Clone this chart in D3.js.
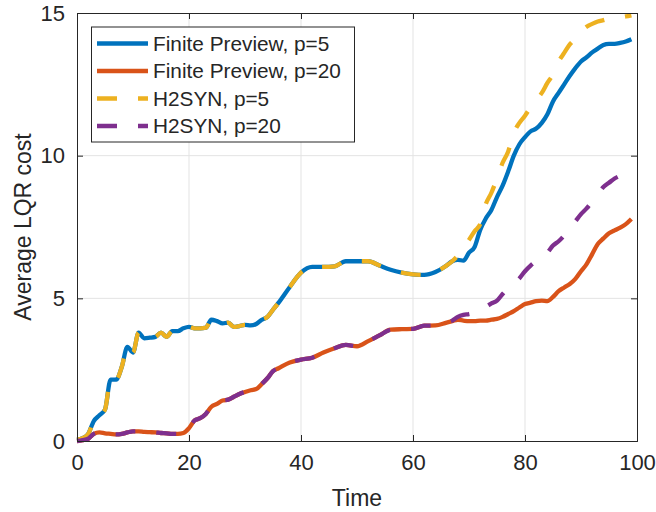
<!DOCTYPE html>
<html>
<head>
<meta charset="utf-8">
<script src="https://cdn.jsdelivr.net/npm/d3@7"></script>
<style>
  body { margin: 0; background: #fff; }
  text { font-family: "Liberation Sans", Arial, Helvetica, sans-serif; fill: #262626; }
</style>
</head>
<body>
<div id="chart"></div>
<script>
const time = [0,1,2,3,4,5,6,7,8,9,10,11,12,13,14,15,16,17,18,19,20,21,22,23,24,25,26,27,28,29,30,31,32,33,34,35,36,
    38,40,42,44,46,48,50,52,54,56,58,60,62,64,
    66,67,68,69,70,71,72,73,74,75,76,77,78,79,80,81,82,83,84,85,86,87,88,89,90,91,92,93,94,95,96,97,98,99];

// shared part of the p=5 curves (t = 0 .. 66)
const p5Common = [0.05,0.1,0.25,0.7,0.9,1.1,2.15,2.15,2.6,3.3,3.1,3.8,3.6,3.62,3.65,3.8,3.65,3.85,3.85,3.95,4.0,3.95,3.95,3.97,4.25,4.2,4.12,4.15,4.0,4.03,4.07,4.05,4.1,4.25,4.35,4.6,4.85,
    5.4,5.9,6.1,6.1,6.12,6.3,6.3,6.3,6.15,6.0,5.9,5.84,5.82,5.92,6.15];
const fp5Tail = [6.3,6.35,6.32,6.6,6.8,7.4,7.8,8.1,8.55,8.95,9.45,10.0,10.4,10.65,10.85,10.95,11.15,11.45,11.9,12.2,12.5,12.8,13.07,13.3,13.45,13.62,13.75,13.88,13.92,13.92,13.95,14.0,14.08];
const h5Tail = [6.3,6.5,6.75,7.05,7.35,7.6,8.3,8.7,9.2,9.75,10.15,10.8,11.15,11.4,11.7,11.95,12.2,12.55,12.85,13.3,13.6,13.9,14.1,14.35,14.52,14.62,14.7,14.75,14.8,14.82,14.85,14.88,14.92];

// shared part of the p=20 curves (t = 0 .. 66)
const p20Common = [0,0.03,0.08,0.25,0.3,0.27,0.25,0.23,0.25,0.3,0.34,0.34,0.32,0.31,0.3,0.28,0.27,0.25,0.25,0.28,0.45,0.72,0.8,0.95,1.2,1.3,1.42,1.45,1.55,1.65,1.72,1.78,1.82,2.0,2.2,2.45,2.55,
    2.75,2.85,2.92,3.1,3.25,3.37,3.32,3.5,3.7,3.9,3.92,3.93,4.04,4.05,4.15];
const fp20Tail = [4.2,4.25,4.22,4.2,4.2,4.22,4.22,4.25,4.28,4.35,4.45,4.55,4.68,4.8,4.85,4.9,4.92,4.9,5.05,5.25,5.38,5.5,5.68,5.95,6.2,6.55,6.9,7.1,7.28,7.38,7.48,7.6,7.78];
const h20Tail = [4.22,4.35,4.42,4.45,4.5,4.6,4.7,4.82,4.92,5.15,5.35,5.5,5.7,5.95,6.15,6.3,6.4,6.6,6.85,7.0,7.2,7.45,7.7,7.95,8.15,8.4,8.65,8.9,9.05,9.2,9.3,9.42,9.55];

const seriesNames = ['Finite Preview, p=5', 'Finite Preview, p=20', 'H2SYN, p=5', 'H2SYN, p=20'];
const seriesValues = [p5Common.concat(fp5Tail), p20Common.concat(fp20Tail), p5Common.concat(h5Tail), p20Common.concat(h20Tail)];
const seriesColors = ['#0072BD', '#D95319', '#EDB120', '#7E2F8E'];
const seriesDash = [null, null, '20,21', '20,21'];

const xTicks = [0, 20, 40, 60, 80, 100];
const yTicks = [0, 5, 10, 15];

const width = 656, height = 512,
    margin = { top: 13, right: 19, bottom: 71, left: 77 };

const svg = d3.select('#chart').append('svg')
    .attr('width', width)
    .attr('height', height);

const x = d3.scaleLinear().domain([0, 100]).range([margin.left, width - margin.right]);
const y = d3.scaleLinear().domain([0, 15]).range([height - margin.bottom, margin.top]);

// grid
svg.append('g')
    .selectAll('line.gx')
    .data(xTicks.slice(1, -1))
    .enter().append('line')
    .attr('x1', d => x(d)).attr('x2', d => x(d))
    .attr('y1', y(0)).attr('y2', y(15))
    .attr('stroke', '#e3e3e3').attr('stroke-width', 1);
svg.append('g')
    .selectAll('line.gy')
    .data(yTicks.slice(1, -1))
    .enter().append('line')
    .attr('x1', x(0)).attr('x2', x(100))
    .attr('y1', d => y(d)).attr('y2', d => y(d))
    .attr('stroke', '#e3e3e3').attr('stroke-width', 1);

// lines
const line = d3.line()
    .x((d, i) => x(time[i]))
    .y(d => y(d))
    .curve(d3.curveMonotoneX);

svg.append('g')
    .selectAll('path')
    .data(seriesValues)
    .enter().append('path')
    .attr('d', d => line(d))
    .attr('fill', 'none')
    .attr('stroke', (d, i) => seriesColors[i])
    .attr('stroke-width', 4.3)
    .attr('stroke-dasharray', (d, i) => seriesDash[i]);

// axes (box with inward ticks)
const tickLen = 6;
svg.append('g')
    .attr('transform', `translate(0,${y(0)})`)
    .call(d3.axisBottom(x).tickValues(xTicks).tickSize(-tickLen).tickPadding(10))
    .call(g => g.selectAll('text').attr('font-size', 22).attr('dy', '0.85em'));
svg.append('g')
    .attr('transform', `translate(0,${y(15)})`)
    .call(d3.axisTop(x).tickValues(xTicks).tickSize(-tickLen).tickFormat(''));
svg.append('g')
    .attr('transform', `translate(${x(0)},0)`)
    .call(d3.axisLeft(y).tickValues(yTicks).tickSize(-tickLen).tickPadding(12))
    .call(g => g.selectAll('text').attr('font-size', 22));
svg.append('g')
    .attr('transform', `translate(${x(100)},0)`)
    .call(d3.axisRight(y).tickValues(yTicks).tickSize(-tickLen).tickFormat(''));

svg.selectAll('.domain, .tick line').attr('stroke', '#262626').attr('stroke-width', 1);
svg.selectAll('.tick text').attr('fill', '#262626').style('font-family', '"Liberation Sans", Arial, sans-serif');

// axis labels
svg.append('text')
    .attr('x', (x(0) + x(100)) / 2)
    .attr('y', 506)
    .attr('text-anchor', 'middle')
    .attr('font-size', 23)
    .text('Time');
svg.append('text')
    .attr('transform', `translate(31,${(y(0) + y(15)) / 2}) rotate(-90)`)
    .attr('text-anchor', 'middle')
    .attr('font-size', 23)
    .text('Average LQR cost');

// legend
const legend = svg.append('g');
legend.append('rect')
    .attr('x', 91.5).attr('y', 27)
    .attr('width', 263).attr('height', 115)
    .attr('fill', '#fff')
    .attr('stroke', '#262626').attr('stroke-width', 1);
const rowY = d3.scaleLinear().domain([0, 3]).range([43.5, 126]);
seriesNames.forEach((name, i) => {
    legend.append('line')
        .attr('x1', 97).attr('x2', 148)
        .attr('y1', rowY(i)).attr('y2', rowY(i))
        .attr('stroke', seriesColors[i])
        .attr('stroke-width', 4.3)
        .attr('stroke-dasharray', seriesDash[i]);
    legend.append('text')
        .attr('x', 153).attr('y', rowY(i))
        .attr('dy', '0.36em')
        .attr('font-size', 20.8)
        .text(name);
});
</script>
</body>
</html>
